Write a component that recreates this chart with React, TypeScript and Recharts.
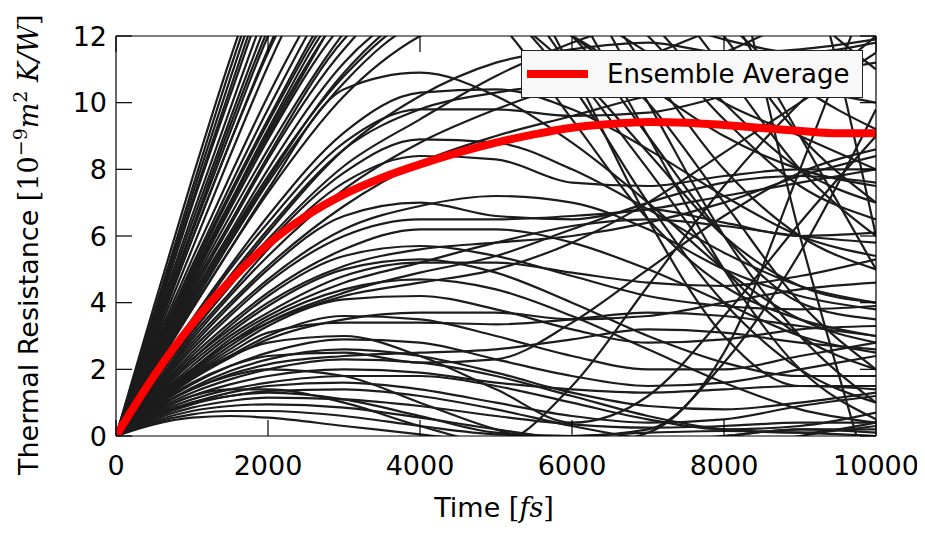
import React from 'react';
import { LineChart, Line, XAxis, YAxis, Legend, Label } from 'recharts';

const TIMES = [0, 500, 1000, 1500, 2000, 3000, 4000, 5000, 6000, 7000, 8000, 9000, 10000];
const X_TICKS = [0, 2000, 4000, 6000, 8000, 10000];
const Y_TICKS = [0, 2, 4, 6, 8, 10, 12];

const AVG_TIMES = [0, 500, 1000, 1500, 2000, 2500, 3000, 3500, 4000, 4500, 5000, 5500, 6000, 6500, 7000, 7500, 8000, 8500, 9000, 9500, 10000];
const ENSEMBLE_AVERAGE = [0, 1.8, 3.35, 4.65, 5.75, 6.6, 7.25, 7.75, 8.15, 8.5, 8.8, 9.05, 9.25, 9.36, 9.42, 9.4, 9.33, 9.24, 9.15, 9.08, 9.08];

// very steep runs
const a1 = [0, 3.9, 7.7, 11.3, 14.5, 19, 22, 24, 25, 25, 24, 23, 22];
const a2 = [0, 3.6, 7.2, 10.7, 14, 19, 23, 25, 26, 26, 25, 24, 23];
const a3 = [0, 3.4, 6.9, 10.2, 13.4, 18, 21, 23, 23, 22, 20, 18, 16];
const a4 = [0, 3.3, 6.6, 9.8, 12.9, 17, 19, 19, 17, 14, 11, 8, 6];
const a5 = [0, 3.2, 6.4, 9.5, 12.5, 17, 20, 21, 20, 17, 13, 9, 5];
const a6 = [0, 3.0, 6.1, 9.1, 12.0, 16, 18, 17, 14, 10, 6, 3, 1];
const a7 = [0, 2.9, 5.9, 8.8, 11.6, 16, 19, 20, 20, 19, 18, 17, 16];
const a8 = [0, 2.8, 5.6, 8.4, 11.1, 15.5, 18, 19, 18, 16, 14, 13, 12];
const a9 = [0, 3.7, 7.4, 11.0, 14.2, 18, 20, 20, 18, 15, 12.5, 10.5, 9.2];
const a10 = [0, 3.5, 7.0, 10.4, 13.7, 18.5, 21, 22, 21, 19, 16, 13, 11];
const a11 = [0, 3.1, 6.2, 9.3, 12.2, 16.5, 18, 16.5, 13, 9, 5, 2, 0.5];
const a12 = [0, 2.95, 5.9, 8.8, 11.5, 15.5, 17, 15, 11, 6.5, 3, 1.5, 1.5];

// steep runs
const b1 = [0, 2.7, 5.3, 7.8, 10.2, 14.2, 17, 18, 17, 15, 12, 9, 7];
const b2 = [0, 2.6, 5.1, 7.5, 9.8, 13.8, 16, 16, 14, 11, 8, 6, 5];
const b3 = [0, 2.5, 4.9, 7.2, 9.4, 13.2, 15, 14, 11, 8, 5, 3, 2];
const b4 = [0, 2.4, 4.7, 6.9, 9.1, 12.8, 15, 15.5, 14.5, 12.5, 10, 8, 7];
const b5 = [0, 2.3, 4.6, 6.8, 8.9, 12.4, 14, 13, 10.5, 7, 4, 2, 1];
const b6 = [0, 2.3, 4.5, 6.6, 8.6, 12.1, 14.5, 15, 14, 12, 9.5, 7.5, 6.5];
const b7 = [0, 2.2, 4.3, 6.3, 8.3, 11.6, 13.5, 13.5, 12, 9, 6, 4, 3.5];
const b8 = [0, 2.1, 4.2, 6.1, 8.0, 11.2, 13, 14, 14.5, 14, 13, 12.5, 12];
const b9 = [0, 2.1, 4.1, 6.0, 7.8, 10.8, 12.6, 13, 12, 10, 7, 4, 2];
const b10 = [0, 2.0, 3.9, 5.8, 7.6, 10.6, 12.4, 12.8, 12, 10.5, 9, 8, 7.5];
const b11 = [0, 2.45, 4.8, 7.0, 9.2, 12.9, 14, 12.5, 9.5, 6.5, 4.5, 3.5, 3];
const b12 = [0, 2.2, 4.4, 6.4, 8.4, 11.9, 13.5, 12.8, 11, 8.5, 6, 4.5, 4];
const b13 = [0, 2.05, 4.0, 5.9, 7.7, 10.9, 12.8, 13.3, 12.8, 11.5, 10, 9, 8];
const b14 = [0, 1.95, 3.8, 5.6, 7.3, 10.2, 12.0, 12.8, 13, 12.6, 11.9, 11.5, 11.8];

// arching runs
const c1 = [0, 1.95, 3.8, 5.6, 7.4, 10.4, 10.9, 10.2, 8.8, 7, 5, 3.5, 2.8];
const c2 = [0, 1.8, 3.5, 5.1, 6.6, 9.1, 10.3, 10.4, 9.8, 8.6, 7.2, 6.0, 5.4];
const c3 = [0, 1.75, 3.4, 5.0, 6.4, 8.8, 9.8, 9.8, 9.6, 9.7, 10.2, 10.8, 11.2];
const c4 = [0, 1.7, 3.3, 4.8, 6.2, 8.6, 9.8, 10.3, 10.6, 10.8, 11.5, 12.5, 13];
const c5 = [0, 1.6, 3.2, 4.6, 5.9, 8.1, 9.5, 10.8, 11.8, 12.5, 13, 13, 12.5];
const c6 = [0, 1.6, 3.1, 4.5, 5.8, 7.9, 8.9, 8.8, 8.0, 6.8, 5.5, 4.5, 4.0];
const c7 = [0, 1.5, 3.0, 4.3, 5.6, 7.6, 8.4, 8.3, 7.6, 7.5, 7.8, 8.0, 8.0];
const c8 = [0, 1.5, 2.9, 4.2, 5.4, 7.4, 8.8, 9.8, 10.6, 11.4, 12.3, 13, 13.5];
const c9 = [0, 1.45, 2.8, 4.0, 5.1, 6.9, 8.2, 9.0, 9.6, 10.2, 10.6, 10.4, 10.0];
const k1 = [0, 1.65, 3.2, 4.7, 6.1, 8.6, 10.2, 11.2, 11.6, 11.8, 11.5, 11.6, 11.9];

// middle runs
const d1 = [0, 1.4, 2.7, 3.9, 5.0, 6.6, 7.0, 6.6, 6.5, 6.8, 6.4, 6.0, 6.1];
const d2 = [0, 1.35, 2.6, 3.7, 4.7, 6.2, 6.9, 7.2, 7.0, 6.2, 5.0, 4.2, 3.8];
const d3 = [0, 1.3, 2.5, 3.6, 4.6, 6.0, 6.5, 6.5, 6.6, 6.8, 7.2, 7.6, 8.0];
const d4 = [0, 1.25, 2.4, 3.4, 4.3, 5.6, 6.2, 6.2, 5.8, 5.0, 4.0, 3.0, 2.5];
const d5 = [0, 1.2, 2.3, 3.3, 4.2, 5.4, 5.7, 5.4, 4.8, 4.2, 3.9, 3.8, 3.9];
const d6 = [0, 1.2, 2.3, 3.2, 4.0, 5.1, 5.6, 5.8, 6.0, 6.4, 7.0, 7.8, 8.4];
const d7 = [0, 1.15, 2.2, 3.1, 3.9, 5.0, 5.3, 4.9, 4.0, 3.0, 2.2, 1.8, 1.8];
const d8 = [0, 1.1, 2.1, 3.0, 3.7, 4.8, 5.2, 5.2, 4.9, 4.6, 4.5, 4.8, 5.3];
const d9 = [0, 1.1, 2.0, 2.9, 3.6, 4.6, 5.2, 5.8, 6.3, 6.5, 6.3, 6.0, 5.8];
const d10 = [0, 1.05, 1.95, 2.8, 3.5, 4.4, 4.7, 4.4, 3.6, 2.6, 1.6, 0.8, 0.4];
const d11 = [0, 1.0, 1.9, 2.7, 3.4, 4.3, 4.9, 5.4, 6.2, 7.0, 7.6, 7.8, 7.6];
const d12 = [0, 1.0, 1.85, 2.6, 3.3, 4.1, 4.2, 3.8, 3.2, 2.8, 2.9, 3.2, 3.3];
const d13 = [0, 0.95, 1.8, 2.5, 3.1, 3.4, 3.4, 3.35, 3.5, 3.7, 3.6, 3.3, 3.0];
const d14 = [0, 0.95, 1.75, 2.4, 3.0, 3.6, 3.5, 3.0, 2.4, 2.0, 2.0, 2.4, 2.8];
const d15 = [0, 0.9, 1.7, 2.35, 2.9, 3.5, 3.7, 3.7, 3.5, 3.6, 4.0, 4.4, 4.6];

// low runs
const e1 = [0, 0.85, 1.55, 2.1, 2.5, 2.9, 2.8, 2.3, 1.8, 1.5, 1.6, 2.0, 2.4];
const e2 = [0, 0.8, 1.45, 1.95, 2.3, 2.6, 2.4, 1.9, 1.3, 0.9, 0.8, 1.0, 1.3];
const e3 = [0, 0.8, 1.4, 1.85, 2.15, 2.4, 2.5, 2.6, 2.9, 3.2, 3.1, 2.8, 2.6];
const e4 = [0, 0.75, 1.3, 1.7, 2.0, 2.3, 2.2, 1.8, 1.2, 0.6, 0.2, 0.1, 0.3];
const e5 = [0, 0.7, 1.2, 1.55, 1.8, 2.0, 1.9, 1.6, 1.4, 1.3, 1.4, 1.5, 1.4];
const e6 = [0, 0.65, 1.1, 1.4, 1.6, 1.8, 1.8, 1.5, 1.0, 0.5, 0.2, 0.3, 0.7];
const e7 = [0, 0.6, 1.0, 1.3, 1.5, 1.6, 1.4, 1.0, 0.6, 0.4, 0.5, 0.9, 1.2];
const e8 = [0, 0.55, 0.95, 1.2, 1.35, 1.4, 1.2, 0.8, 0.3, -0.1, -0.3, 0, 0.4];

// very low runs
const f1 = [0, 0.5, 0.85, 1.05, 1.15, 1.1, 0.9, 0.6, 0.35, 0.25, 0.3, 0.4, 0.4];
const f2 = [0, 0.45, 0.75, 0.9, 0.95, 0.85, 0.55, 0.2, -0.1, -0.2, 0, 0.2, 0.2];
const f3 = [0, 0.4, 0.65, 0.75, 0.75, 0.6, 0.3, 0.05, 0, 0.1, 0.15, 0.1, 0];
const f4 = [0, 0.35, 0.55, 0.6, 0.55, 0.3, 0.05, -0.2, -0.3, -0.2, 0, 0.2, 0.1];

// late risers and late fallers
const r1 = [0, 0.9, 1.6, 2.1, 2.4, 2.5, 2.2, 2.3, 3.4, 5.0, 6.6, 7.9, 8.6];
const r2 = [0, 0.7, 1.2, 1.4, 1.4, 1.0, 0.3, -0.2, 1.5, 4.5, 7.5, 10, 12];
const r3 = [0, 1.0, 1.8, 2.4, 2.8, 3.0, 2.4, 1.4, 0.4, 1.2, 3.6, 6.4, 9.0];
const r4 = [0, 0.6, 1.0, 1.2, 1.3, 1.1, 0.6, 0.1, 0.0, 0.2, 2.2, 5.5, 9.8];
const r5 = [0, 1.1, 2.0, 2.8, 3.4, 4.2, 4.6, 5.0, 5.8, 7.0, 8.5, 10.0, 11.5];
const h1 = [0, 2.5, 4.8, 7.0, 9.0, 13, 17, 19, 20, 19, 15, 6, -2];
const h2 = [0, 0.8, 1.4, 1.8, 2.0, 1.8, 1.0, 0.2, -0.3, 0.1, 2.5, 8, 14];
const h3 = [0, 2.6, 5.0, 7.3, 9.5, 13.5, 16, 18, 19, 19.5, 18, 15, 6];

const RUNS = [
  a1, a2, a3, a4, a5, a6, a7, a8, a9, a10, a11, a12,
  b1, b2, b3, b4, b5, b6, b7, b8, b9, b10, b11, b12, b13, b14,
  c1, c2, c3, c4, c5, c6, c7, c8, c9, k1,
  d1, d2, d3, d4, d5, d6, d7, d8, d9, d10, d11, d12, d13, d14, d15,
  e1, e2, e3, e4, e5, e6, e7, e8,
  f1, f2, f3, f4,
  r1, r2, r3, r4, r5, h1, h2, h3,
];

const rows = TIMES.map((t, i) => {
  const row: Record<string, number> = { t };
  RUNS.forEach((s, k) => {
    row['run' + k] = s[i];
  });
  return row;
});

const avgRows = AVG_TIMES.map((t, i) => ({ t, avg: ENSEMBLE_AVERAGE[i] }));

const SANS = 'DejaVu Sans';
const SERIF = 'DejaVu Serif';

const YTitle = () => (
  <text transform="translate(30,467) rotate(-90)" textAnchor="start" fontSize={27} fill="#000" fontFamily={SANS}>
    <tspan>Thermal Resistance </tspan>
    <tspan fontFamily={SERIF}>[10</tspan>
    <tspan fontFamily={SERIF} fontSize={19} dy={-11}>−9</tspan>
    <tspan fontFamily={SERIF} fontStyle="italic" dy={11}>m</tspan>
    <tspan fontFamily={SERIF} fontSize={19} dy={-11}>2</tspan>
    <tspan fontFamily={SERIF} fontStyle="italic" dy={11}> K/W</tspan>
    <tspan fontFamily={SERIF}>]</tspan>
  </text>
);

const XTitle = () => (
  <text x={486} y={509} textAnchor="middle" fontSize={27} fill="#000" fontFamily={SANS}>
    <tspan>Time </tspan>
    <tspan fontFamily={SERIF}>[</tspan>
    <tspan fontFamily={SERIF} fontStyle="italic">fs</tspan>
    <tspan fontFamily={SERIF}>]</tspan>
  </text>
);

const LegendBox = () => (
  <div
    style={{
      width: 342,
      height: 48,
      boxSizing: 'border-box',
      border: '1px solid #222',
      background: '#f8f8f8',
      display: 'flex',
      alignItems: 'center',
      fontFamily: SANS,
      fontSize: 26,
      color: '#000',
    }}
  >
    <div style={{ width: 61, height: 8, background: '#ff0000', marginLeft: 5, marginRight: 19 }} />
    <span>Ensemble Average</span>
  </div>
);

const noTick = () => <g />;

export default function App() {
  return (
    <LineChart width={917} height={527} data={rows} margin={{ top: 27, right: 48, bottom: 39, left: 48 }}>
      <XAxis
        dataKey="t"
        type="number"
        domain={[0, 10000]}
        ticks={X_TICKS}
        interval={0}
        allowDataOverflow
        height={60}
        tickSize={-16}
        tickMargin={36}
        tick={{ fontSize: 27, fill: '#000', fontFamily: SANS }}
        axisLine={{ stroke: '#000', strokeWidth: 1.2 }}
        tickLine={{ stroke: '#000', strokeWidth: 1.2 }}
      >
        <Label content={XTitle} />
      </XAxis>
      <XAxis
        xAxisId="top"
        orientation="top"
        dataKey="t"
        type="number"
        domain={[0, 10000]}
        ticks={X_TICKS}
        interval={0}
        allowDataOverflow
        height={1}
        tickSize={-16}
        tick={noTick}
        axisLine={{ stroke: '#000', strokeWidth: 1.2 }}
        tickLine={{ stroke: '#000', strokeWidth: 1.2 }}
      />
      <YAxis
        type="number"
        domain={[0, 12]}
        ticks={Y_TICKS}
        interval={0}
        allowDataOverflow
        width={60}
        tickSize={-16}
        tickMargin={25}
        tick={{ fontSize: 27, fill: '#000', fontFamily: SANS }}
        axisLine={{ stroke: '#000', strokeWidth: 1.2 }}
        tickLine={{ stroke: '#000', strokeWidth: 1.2 }}
      >
        <Label content={YTitle} />
      </YAxis>
      <YAxis
        yAxisId="right"
        orientation="right"
        type="number"
        domain={[0, 12]}
        ticks={Y_TICKS}
        interval={0}
        allowDataOverflow
        width={1}
        tickSize={-16}
        tick={noTick}
        axisLine={{ stroke: '#000', strokeWidth: 1.2 }}
        tickLine={{ stroke: '#000', strokeWidth: 1.2 }}
      />
      {RUNS.map((_, k) => (
        <Line
          key={'run' + k}
          type="monotone"
          dataKey={'run' + k}
          stroke="#1c1c1c"
          strokeWidth={2.2}
          dot={false}
          activeDot={false}
          legendType="none"
          isAnimationActive={false}
        />
      ))}
      <Line
        data={avgRows}
        type="monotone"
        dataKey="avg"
        name="Ensemble Average"
        stroke="#ff0000"
        strokeWidth={8}
        dot={false}
        activeDot={false}
        isAnimationActive={false}
      />
      <Legend
        layout="horizontal"
        verticalAlign="middle"
        align="center"
        wrapperStyle={{ left: 513, top: 42, width: 342, height: 48 }}
        content={LegendBox}
      />
    </LineChart>
  );
}
